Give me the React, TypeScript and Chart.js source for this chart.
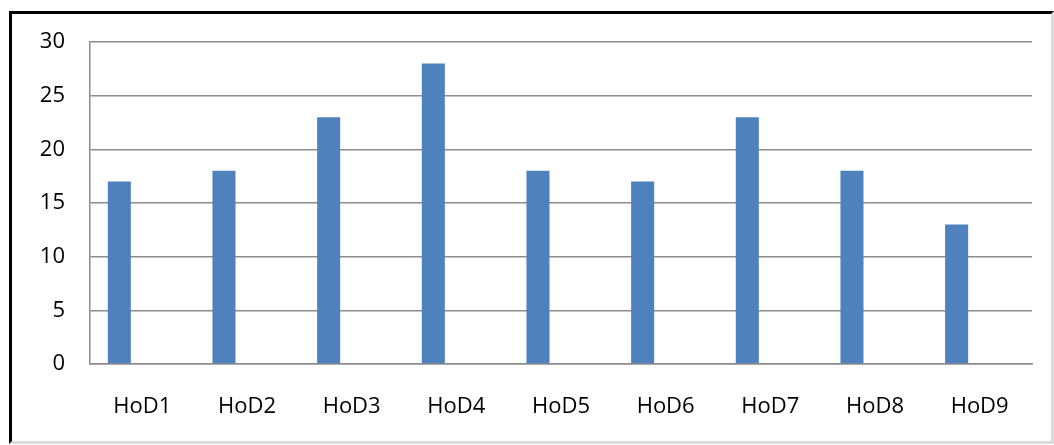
import React, { useEffect, useRef } from "react";
import { Chart, registerables } from "chart.js";

Chart.register(...registerables);

const categories = ["HoD1", "HoD2", "HoD3", "HoD4", "HoD5", "HoD6", "HoD7", "HoD8", "HoD9"];
const values = [17, 18, 23, 28, 18, 17, 23, 18, 13];
const emptySeriesA: (number | null)[] = [null, null, null, null, null, null, null, null, null];
const emptySeriesB: (number | null)[] = [null, null, null, null, null, null, null, null, null];
const yTicks = [0, 5, 10, 15, 20, 25, 30];

export default function App() {
  const ref = useRef<HTMLCanvasElement | null>(null);

  useEffect(() => {
    if (!ref.current) return;
    Chart.defaults.font.family = "'Open Sans', sans-serif";
    const chart = new Chart(ref.current, {
      type: "bar",
      data: {
        labels: categories,
        datasets: [
          { label: "Series1", data: values, backgroundColor: "#4F81BD", borderWidth: 0 },
          { label: "Series2", data: emptySeriesA, backgroundColor: "#C0504D", borderWidth: 0 },
          { label: "Series3", data: emptySeriesB, backgroundColor: "#9BBB59", borderWidth: 0 },
        ],
      },
      options: {
        responsive: false,
        animation: false,
        events: [],
        layout: { padding: { left: 0, right: 22, top: 42, bottom: 25 } },
        datasets: { bar: { categoryPercentage: 0.66, barPercentage: 1 } },
        plugins: { legend: { display: false }, tooltip: { enabled: false }, title: { display: false } },
        scales: {
          x: {
            afterFit: (s: any) => {
              s.height = 56;
            },
            grid: { display: false, drawTicks: false },
            border: { display: true, color: "#8c8c8c", width: 1.5 },
            ticks: { color: "#000", padding: 30, font: { size: 22 }, maxRotation: 0 },
          },
          y: {
            min: 0,
            max: 30,
            afterFit: (s: any) => {
              s.width = 90;
            },
            afterBuildTicks: (s: any) => {
              s.ticks = yTicks.map((v) => ({ value: v }));
            },
            grid: { color: "#8c8c8c", lineWidth: 1.5, drawTicks: false },
            border: { display: true, color: "#8c8c8c", width: 1.5 },
            ticks: { color: "#000", padding: 25, font: { size: 22 } },
          },
        },
      },
    });
    return () => chart.destroy();
  }, []);

  return (
    <div style={{ position: "fixed", left: 0, top: 0, width: 1054, height: 445, background: "#fff" }}>
      <div
        style={{
          position: "absolute",
          left: 9,
          top: 11,
          width: 1045,
          height: 433,
          boxSizing: "border-box",
          borderTop: "3px solid #000",
          borderLeft: "3px solid #000",
          borderRight: "3px solid #dcdcdc",
          borderBottom: "3px solid #dcdcdc",
        }}
      />
      <canvas ref={ref} width={1054} height={445} style={{ position: "absolute", left: 0, top: 0, width: 1054, height: 445 }} />
    </div>
  );
}
